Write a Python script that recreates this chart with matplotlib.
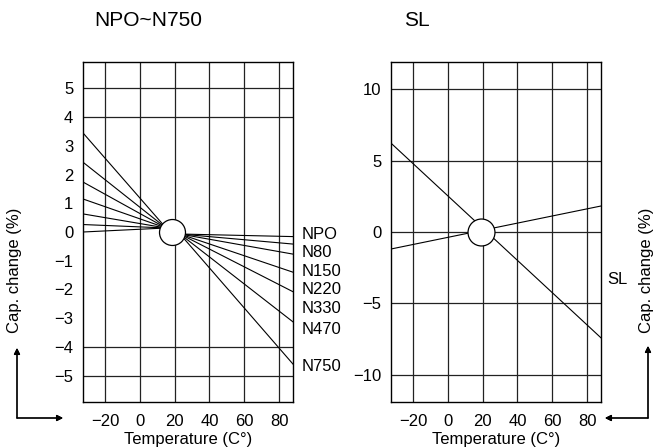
import matplotlib.pyplot as plt

plt.rcParams['font.family'] = ['Liberation Sans', 'DejaVu Sans']

W, H = 656, 447

# temperature span of the frames, and the reference point (circle)
t_lo, t_hi = -32.6, 88.0
ref_temp = 18.5

# NPO ~ N750 family: value at left edge, value at right edge
npo_names = ['NPO', 'N80', 'N150', 'N220', 'N330', 'N470', 'N750']
npo_at_lo = [0.0, 0.26, 0.63, 1.15, 1.74, 2.43, 3.45]
npo_at_hi = [-0.16, -0.42, -0.77, -1.40, -2.08, -3.13, -4.60]
join_lo = (15.1, 0.14)
join_hi = (23.1, -0.07)

# SL band limits
sl_at_lo = [6.22, -1.19]
sl_at_hi = [-7.41, 1.82]

xticks = [-20, 0, 20, 40, 60, 80]
left_yticks = list(range(5, -6, -1))
left_hgrid = [5, 4, -4, -5]
right_yticks = [10, 5, 0, -5, -10]

# where the series names sit next to the left frame
label_y = [-0.10, -0.73, -1.39, -1.99, -2.65, -3.38, -4.70]


def setup(ax, ylim, yticks, hgrid):
  ax.set_xlim(t_lo, t_hi)
  ax.set_ylim(-ylim, ylim)
  ax.set_xticks(xticks)
  ax.set_yticks(yticks)
  ax.tick_params(length=0, labelsize=12)
  ax.tick_params(axis='y', pad=7)
  ax.tick_params(axis='x', pad=9)
  for s in ax.spines.values():
    s.set_linewidth(1.0)
  for t in xticks:
    ax.axvline(t, color='#222222', lw=0.9, zorder=1)
  for v in hgrid:
    ax.axhline(v, color='#222222', lw=0.9, zorder=1)
  ax.set_xlabel('Temperature (C°)', fontsize=12, labelpad=1.5)


fig = plt.figure(figsize=(W / 100, H / 100), dpi=100)
ax1 = fig.add_axes([83 / W, 45 / H, 210 / W, 340 / H])
ax2 = fig.add_axes([391 / W, 45 / H, 210 / W, 340 / H])

setup(ax1, 5.92, left_yticks, left_hgrid)
setup(ax2, 11.9, right_yticks, right_yticks)

for lo, hi in zip(npo_at_lo, npo_at_hi):
  ax1.plot([t_lo, join_lo[0]], [lo, join_lo[1]], color='black', lw=0.8, zorder=3)
  ax1.plot([join_hi[0], t_hi], [join_hi[1], hi], color='black', lw=0.8, zorder=3)
ax1.plot(ref_temp, 0, 'o', ms=18.7, mfc='white', mec='black', mew=0.9, zorder=5)

for name, y in zip(npo_names, label_y):
  ax1.annotate(name, xy=(1, y), xycoords=('axes fraction', 'data'),
               xytext=(6.5, 0), textcoords='offset points',
               ha='left', va='center', fontsize=12, annotation_clip=False)

for lo, hi in zip(sl_at_lo, sl_at_hi):
  ax2.plot([t_lo, t_hi], [lo, hi], color='black', lw=0.8, zorder=3)
ax2.plot(19, 0, 'o', ms=19.4, mfc='white', mec='black', mew=0.9, zorder=5)
ax2.annotate('SL', xy=(1, -3.36), xycoords=('axes fraction', 'data'),
             xytext=(4.5, 0), textcoords='offset points',
             ha='left', va='center', fontsize=12, annotation_clip=False)

fig.text(148 / W, 1 - 21 / H, 'NPO~N750', ha='center', va='center', fontsize=15)
fig.text(417 / W, 1 - 21 / H, 'SL', ha='center', va='center', fontsize=15)

fig.text(15 / W, 1 - 270 / H, 'Cap. change (%)', rotation=90,
         ha='center', va='center', fontsize=12)
fig.text(646 / W, 1 - 270 / H, 'Cap. change (%)', rotation=90,
         ha='center', va='center', fontsize=12)

# L-shaped axis arrows
arrow = dict(arrowstyle='-|>', color='black', lw=0.9, mutation_scale=9,
             shrinkA=0, shrinkB=0)
corner_y = H - 418
for tip in [(17, H - 348), (63, corner_y)]:
  fig.add_artist(plt.annotate('', xy=tip, xycoords='figure pixels',
                              xytext=(17, corner_y), textcoords='figure pixels',
                              arrowprops=arrow))
for tip in [(648, H - 346), (605, corner_y)]:
  fig.add_artist(plt.annotate('', xy=tip, xycoords='figure pixels',
                              xytext=(648, corner_y), textcoords='figure pixels',
                              arrowprops=arrow))

fig.savefig('out.png', dpi=100)
